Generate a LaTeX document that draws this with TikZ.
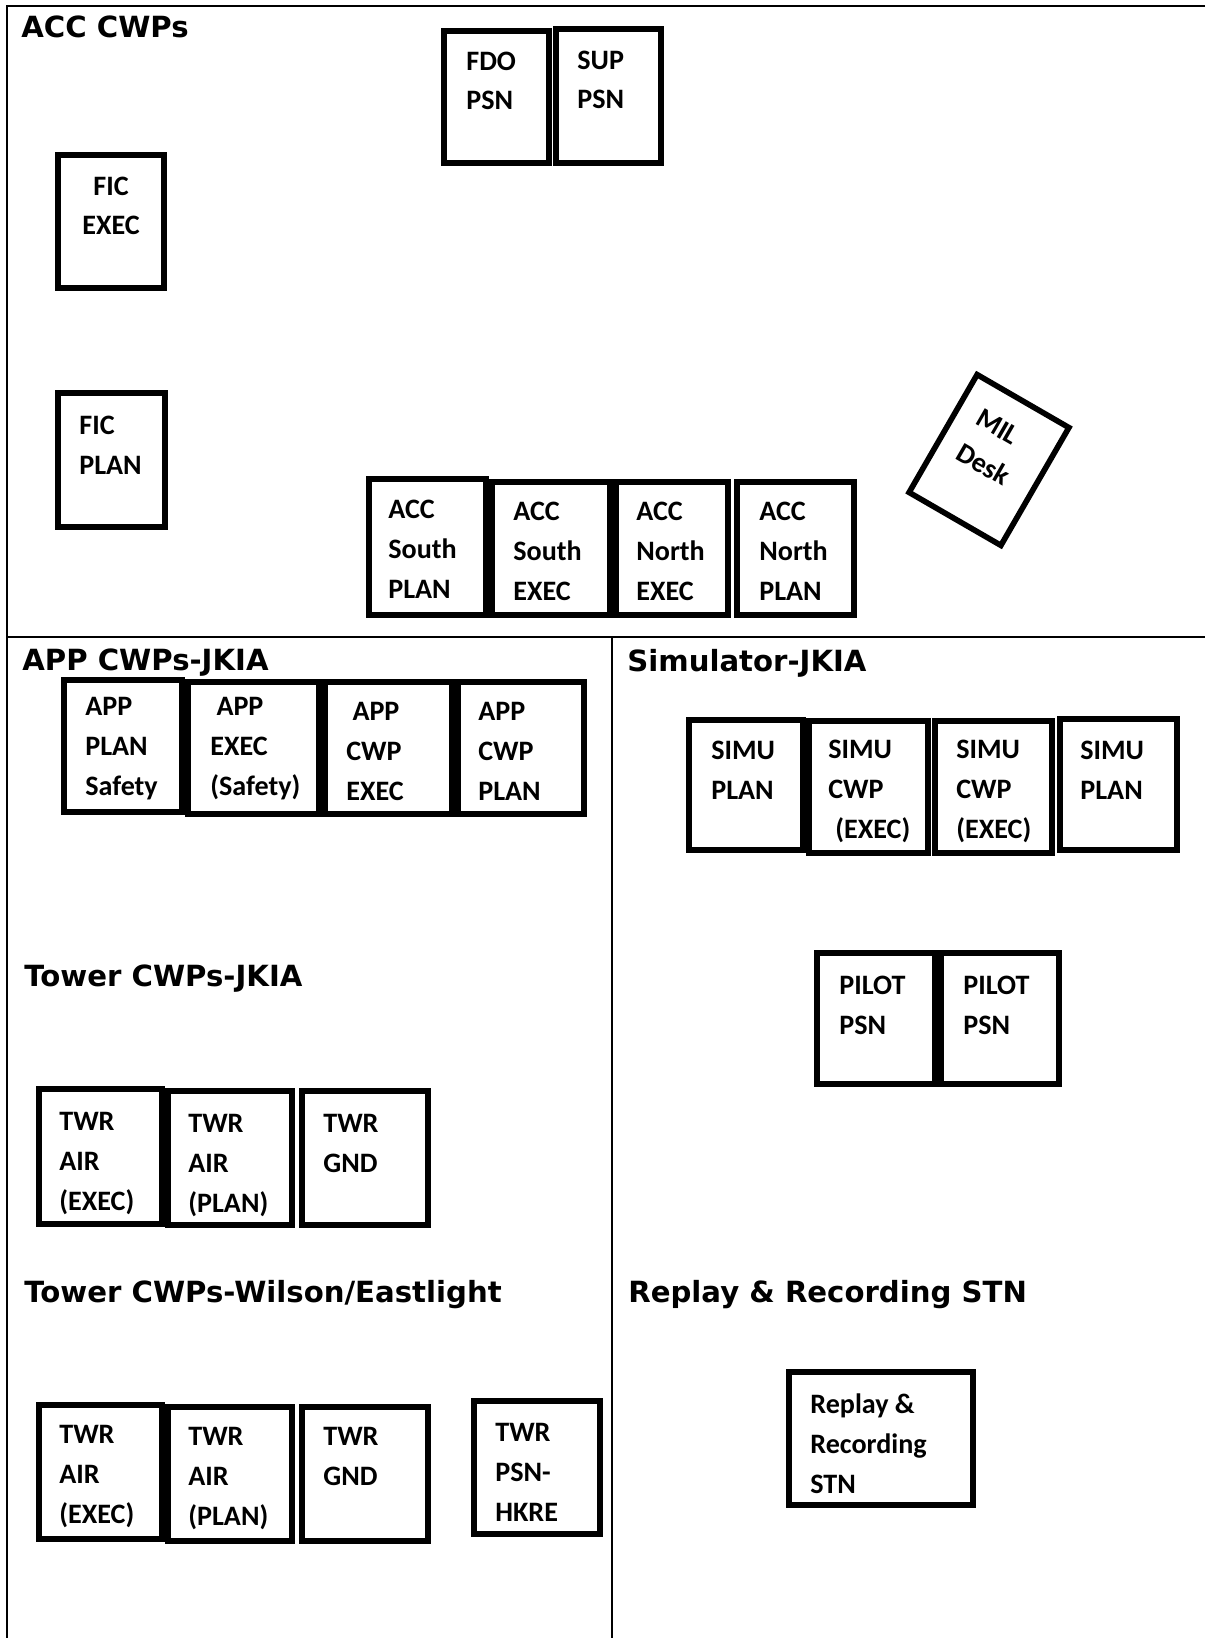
\documentclass[tikz,border=0pt]{standalone}
\usepackage{fontspec}
\newfontfamily\cwpfont{Carlito}[BoldFont={Carlito Bold}]
\newfontfamily\headfont{DejaVu Sans}
\begin{document}
\begin{tikzpicture}[x=0.02cm,y=-0.02cm,
    cwp/.style={line width=3.2pt},
    hall/.style={line width=1.1pt},
    lbl/.style={font=\cwpfont\bfseries\fontsize{16}{22.5}\selectfont,align=left,anchor=base west,inner sep=0pt},
    ttl/.style={font=\headfont\bfseries\fontsize{16.6}{20}\selectfont,anchor=base west,inner sep=0pt}]
    \useasboundingbox (0,0) rectangle (1205,1638);
    % room outline
    \draw[hall] (1205,6) -- (7,6) -- (7,1638);
    \draw[hall] (7,637) -- (1205,637);
    \draw[hall] (612,637) -- (612,1638);
    % titles
    \node[ttl] (accttl) at (21,38) {ACC CWPs};
    \node[ttl] (appttl) at (22,670) {APP CWPs-JKIA};
    \node[ttl] (simttl) at (627,671) {Simulator-JKIA};
    \node[ttl] (twrjttl) at (24,986) {Tower CWPs-JKIA};
    \node[ttl] (twrwttl) at (24,1302) {Tower CWPs-Wilson/Eastlight};
    \node[ttl] (rplttl) at (628,1302) {Replay \& Recording STN};
    % ACC (labels sit on the baseline of their last line)
    \draw[cwp] (444,31) rectangle (549,163);
    \draw[cwp] (556,29) rectangle (661,163);
    \node[lbl] (fdo) at (466,110) {FDO\\PSN};
    \node[lbl] (sup) at (577,109) {SUP\\PSN};
    \draw[cwp] (58,155) rectangle (164,288);
    \node[lbl,align=center,anchor=base] (ficexec) at (111,235) {FIC\\EXEC};
    \draw[cwp] (58,393) rectangle (165,527);
    \node[lbl] (ficplan) at (79,474) {FIC\\PLAN};
    \draw[cwp] (369,479) rectangle (486,615);
    \draw[cwp] (492,482) rectangle (610,615);
    \draw[cwp] (616,482) rectangle (728,615);
    \draw[cwp] (737,482) rectangle (854,615);
    \node[lbl] (accsp) at (388,598) {ACC\\South\\PLAN};
    \node[lbl] (accse) at (513,600) {ACC\\South\\EXEC};
    \node[lbl] (accne) at (636,600) {ACC\\North\\EXEC};
    \node[lbl] (accnp) at (759,600) {ACC\\North\\PLAN};
    \draw[cwp,rotate around={-30:(989,460)}] (936,392) rectangle (1042,528);
    \node[lbl,rotate=-30] (mil) at (954,458) {MIL\\Desk};
    % APP
    \draw[cwp] (64,680) rectangle (182,812);
    \draw[cwp] (188,682) rectangle (319,814);
    \draw[cwp] (325,682) rectangle (452,814);
    \draw[cwp] (458,682) rectangle (584,814);
    \node[lbl] (appps) at (85,795) {APP\\PLAN\\Safety};
    \node[lbl] (appes) at (210,795) {\hspace{3.5pt}APP\\EXEC\\(Safety)};
    \node[lbl] (appce) at (346,800) {\hspace{3.5pt}APP\\CWP\\EXEC};
    \node[lbl] (appcp) at (478,800) {APP\\CWP\\PLAN};
    % simulator
    \draw[cwp] (689,720) rectangle (803,850);
    \draw[cwp] (809,721) rectangle (928,853);
    \draw[cwp] (935,721) rectangle (1052,853);
    \draw[cwp] (1060,719) rectangle (1177,850);
    \node[lbl] (simpa) at (711,799) {SIMU\\PLAN};
    \node[lbl] (simea) at (828,838) {SIMU\\CWP\\\hspace{4pt}(EXEC)};
    \node[lbl] (simeb) at (956,838) {SIMU\\CWP\\(EXEC)};
    \node[lbl] (simpb) at (1080,799) {SIMU\\PLAN};
    \draw[cwp] (817,953) rectangle (935,1084);
    \draw[cwp] (941,953) rectangle (1059,1084);
    \node[lbl] (pilota) at (839,1034) {PILOT\\PSN};
    \node[lbl] (pilotb) at (963,1034) {PILOT\\PSN};
    % tower JKIA
    \draw[cwp] (39,1089) rectangle (162,1224);
    \draw[cwp] (168,1091) rectangle (292,1225);
    \draw[cwp] (302,1091) rectangle (428,1225);
    \node[lbl] (jkae) at (59,1210) {TWR\\AIR\\(EXEC)};
    \node[lbl] (jkap) at (188,1212) {TWR\\AIR\\(PLAN)};
    \node[lbl] (jkgnd) at (323,1172) {TWR\\GND};
    % tower Wilson/Eastlight
    \draw[cwp] (39,1405) rectangle (162,1539);
    \draw[cwp] (168,1407) rectangle (292,1541);
    \draw[cwp] (302,1407) rectangle (428,1541);
    \draw[cwp] (474,1401) rectangle (600,1534);
    \node[lbl] (wiae) at (59,1523) {TWR\\AIR\\(EXEC)};
    \node[lbl] (wiap) at (188,1525) {TWR\\AIR\\(PLAN)};
    \node[lbl] (wignd) at (323,1485) {TWR\\GND};
    \node[lbl] (wipsn) at (495,1521) {TWR\\PSN-\\HKRE};
    % replay
    \draw[cwp] (789,1372) rectangle (973,1505);
    \node[lbl] (rpl) at (810,1493) {Replay \&\\Recording\\STN};
\end{tikzpicture}
\end{document}
